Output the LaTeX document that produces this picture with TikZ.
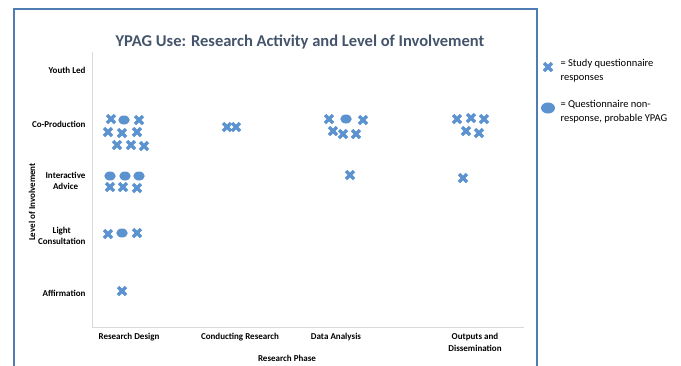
\documentclass[tikz,border=0pt]{standalone}
\usepackage{fontspec}
\setmainfont{Carlito}
\usepackage{xcolor}
\usetikzlibrary{shapes.misc, shapes.geometric, positioning}

\definecolor{frameblue}{RGB}{79,124,178}
\definecolor{markblue}{RGB}{91,146,207}
\definecolor{titlegray}{RGB}{68,84,106}
\definecolor{axisgray}{RGB}{217,217,217}

\begin{document}
\begin{tikzpicture}[x=1pt, y=-1pt,
    xpt/.style={draw=markblue, cross out, line width=3.4pt, minimum size=4.6pt, inner sep=0pt},
    blob/.style={fill=markblue, ellipse, minimum width=11.5pt, minimum height=9pt, inner sep=0pt},
    lvl/.style={font=\bfseries\fontsize{9}{10.5}\selectfont, align=center, anchor=east},
    phase/.style={font=\bfseries\fontsize{9}{11.5}\selectfont, align=center, anchor=north},
    legtext/.style={font=\fontsize{10.5}{13.5}\selectfont, align=left, anchor=north west}]
    \path[use as bounding box, clip] (0,0) rectangle (681,365);
    \draw[frameblue, line width=2pt] (14,9) rectangle (537,400);

    % title and axes
    \node[font=\bfseries\fontsize{16.5}{19}\selectfont, text=titlegray] (title) at (300,42) {YPAG Use: Research Activity and Level of Involvement};
    \coordinate (top) at (92,52);
    \coordinate (orig) at (92,327);
    \coordinate (xend) at (524,327);
    \draw[axisgray, line width=0.8pt] (top) -- (orig) -- (xend);

    % level labels
    \node[lvl] (youth) at (89,70) {Youth Led};
    \node[lvl] (coprod) at (89,124) {Co-Production};
    \node[lvl] (inter) at (89,181) {Interactive\\Advice};
    \node[lvl] (light) at (89,236) {Light\\Consultation};
    \node[lvl] (affirm) at (89,293) {Affirmation};
    \node[font=\bfseries\fontsize{9}{11}\selectfont, rotate=90] (ytitle) at (32,202) {Level of Involvement};

    % phase labels
    \node[phase] (design) at (129,330) {Research Design};
    \node[phase] (conduct) at (240,330) {Conducting Research};
    \node[phase] (analysis) at (336,330) {Data Analysis};
    \node[phase] (outputs) at (475,330) {Outputs and\\Dissemination};
    \node[font=\bfseries\fontsize{9}{11}\selectfont] (xtitle) at (287,358) {Research Phase};

    % responses
    \foreach \x/\y [count=\i] in {111/119, 139/120, 108/132, 122/133, 137/132, 117/145, 131/145, 144/146,
        110/187, 123/187, 137/188, 108/234, 137/233, 122/291,
        227/127, 236/127,
        329/119, 363/120, 333/131, 343/134, 356/134, 350/175,
        457/119, 471/118, 484/119, 466/131, 479/133, 463/178}
        \node[xpt] (resp\i) at (\x,\y) {};

    % non-responses
    \foreach \x/\y [count=\i] in {124/120, 110/176, 125/176, 139/176, 122/233, 346/119}
        \node[blob] (nonresp\i) at (\x,\y) {};

    % legend
    \node[xpt] (legx) at (548,67) {};
    \node[blob, minimum width=14pt, minimum height=11pt] (legblob) at (548,108) {};
    \node[legtext] (legxtext) at (557,56) {= Study questionnaire\\responses};
    \node[legtext] (legbtext) at (557,97) {= Questionnaire non-\\response, probable YPAG};
\end{tikzpicture}
\end{document}
